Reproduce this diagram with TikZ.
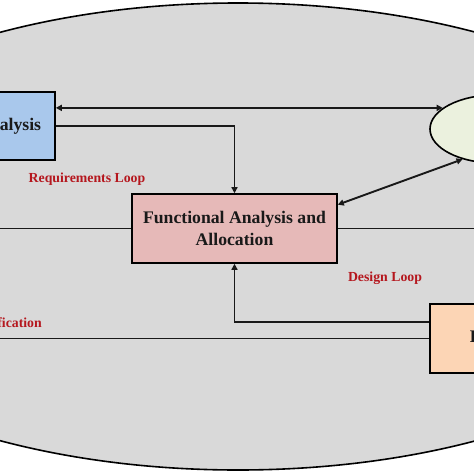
\documentclass[tikz,border=0pt]{standalone}
\usepackage{fontspec}
\setmainfont{Liberation Serif}
\usetikzlibrary{arrows.meta,shapes.geometric,calc}
\definecolor{bggrey}{HTML}{D9D9D9}
\definecolor{boxblue}{HTML}{A9C8EC}
\definecolor{boxpink}{HTML}{E6B9B8}
\definecolor{boxorange}{HTML}{FCD5B5}
\definecolor{boxgreen}{HTML}{EBF1DE}
\definecolor{looptext}{HTML}{B5171E}
\tikzset{
  procbox/.style={draw=black, line width=1.6pt, rectangle, inner sep=0pt,
    minimum height=68pt, align=center,
    font=\fontsize{17.7}{22}\selectfont\bfseries, text=black!90},
  looplabel/.style={inner sep=0pt, text=looptext,
    font=\fontsize{13.8}{16}\selectfont\bfseries},
  conn/.style={line width=1.9pt, draw=black!90},
  tip/.style={-{Triangle[length=6pt,width=6pt]}},
  dtip/.style={{Triangle[length=6pt,width=6pt]}-{Triangle[length=6pt,width=6pt]}}
}
\begin{document}
\begin{tikzpicture}[x=1pt,y=-1pt]
\useasboundingbox (0,0) rectangle (474,474);
\clip (0,0) rectangle (474,474);
\fill[white] (0,0) rectangle (474,474);

% outer boundary
\node[ellipse, draw=black, line width=1.6pt, fill=bggrey, inner sep=0pt,
      minimum width=980pt, minimum height=467pt] (boundary) at (238,236.5) {};

% boxes
\node[procbox, fill=boxblue, minimum width=202pt] (reqan) at (-46,126) {Requirements Analysis};
\node[procbox, fill=boxpink, minimum width=205pt, minimum height=69pt] (funcan) at (234.5,228.5)
  {Functional Analysis and\\Allocation};
\node[procbox, fill=boxorange, minimum width=206pt, minimum height=69pt] (synth) at (533,338.5) {Design Synthesis};
\node[ellipse, draw=black, line width=1.6pt, fill=boxgreen, inner sep=0pt,
      minimum width=130pt, minimum height=68pt] (sysan) at (495,129) {};

% free ends
\coordinate (inL) at (-5,228.5);
\coordinate (outR) at (480,228.5);
\coordinate (verL) at (-5,338.5);

% connectors
\draw[conn, dtip] (reqan.east |- sysan.158) -- (sysan.158);
\draw[conn, tip] (reqan.east) -| (funcan.north);
\draw[conn, dtip] (funcan.13) -- (sysan.223);
\draw[conn] (inL) -- (funcan.west);
\draw[conn] (funcan.east) -- (outR);
\draw[conn, tip] (synth.171) -| (funcan.south);
\draw[conn] (verL) -- (synth.west);

% labels
\node[looplabel] (reqloop) at (87,179) {Requirements Loop};
\node[looplabel] (desloop) at (385,278) {Design Loop};
\node[looplabel, anchor=east] (verif) at (42,323) {Verification};
\end{tikzpicture}
\end{document}
